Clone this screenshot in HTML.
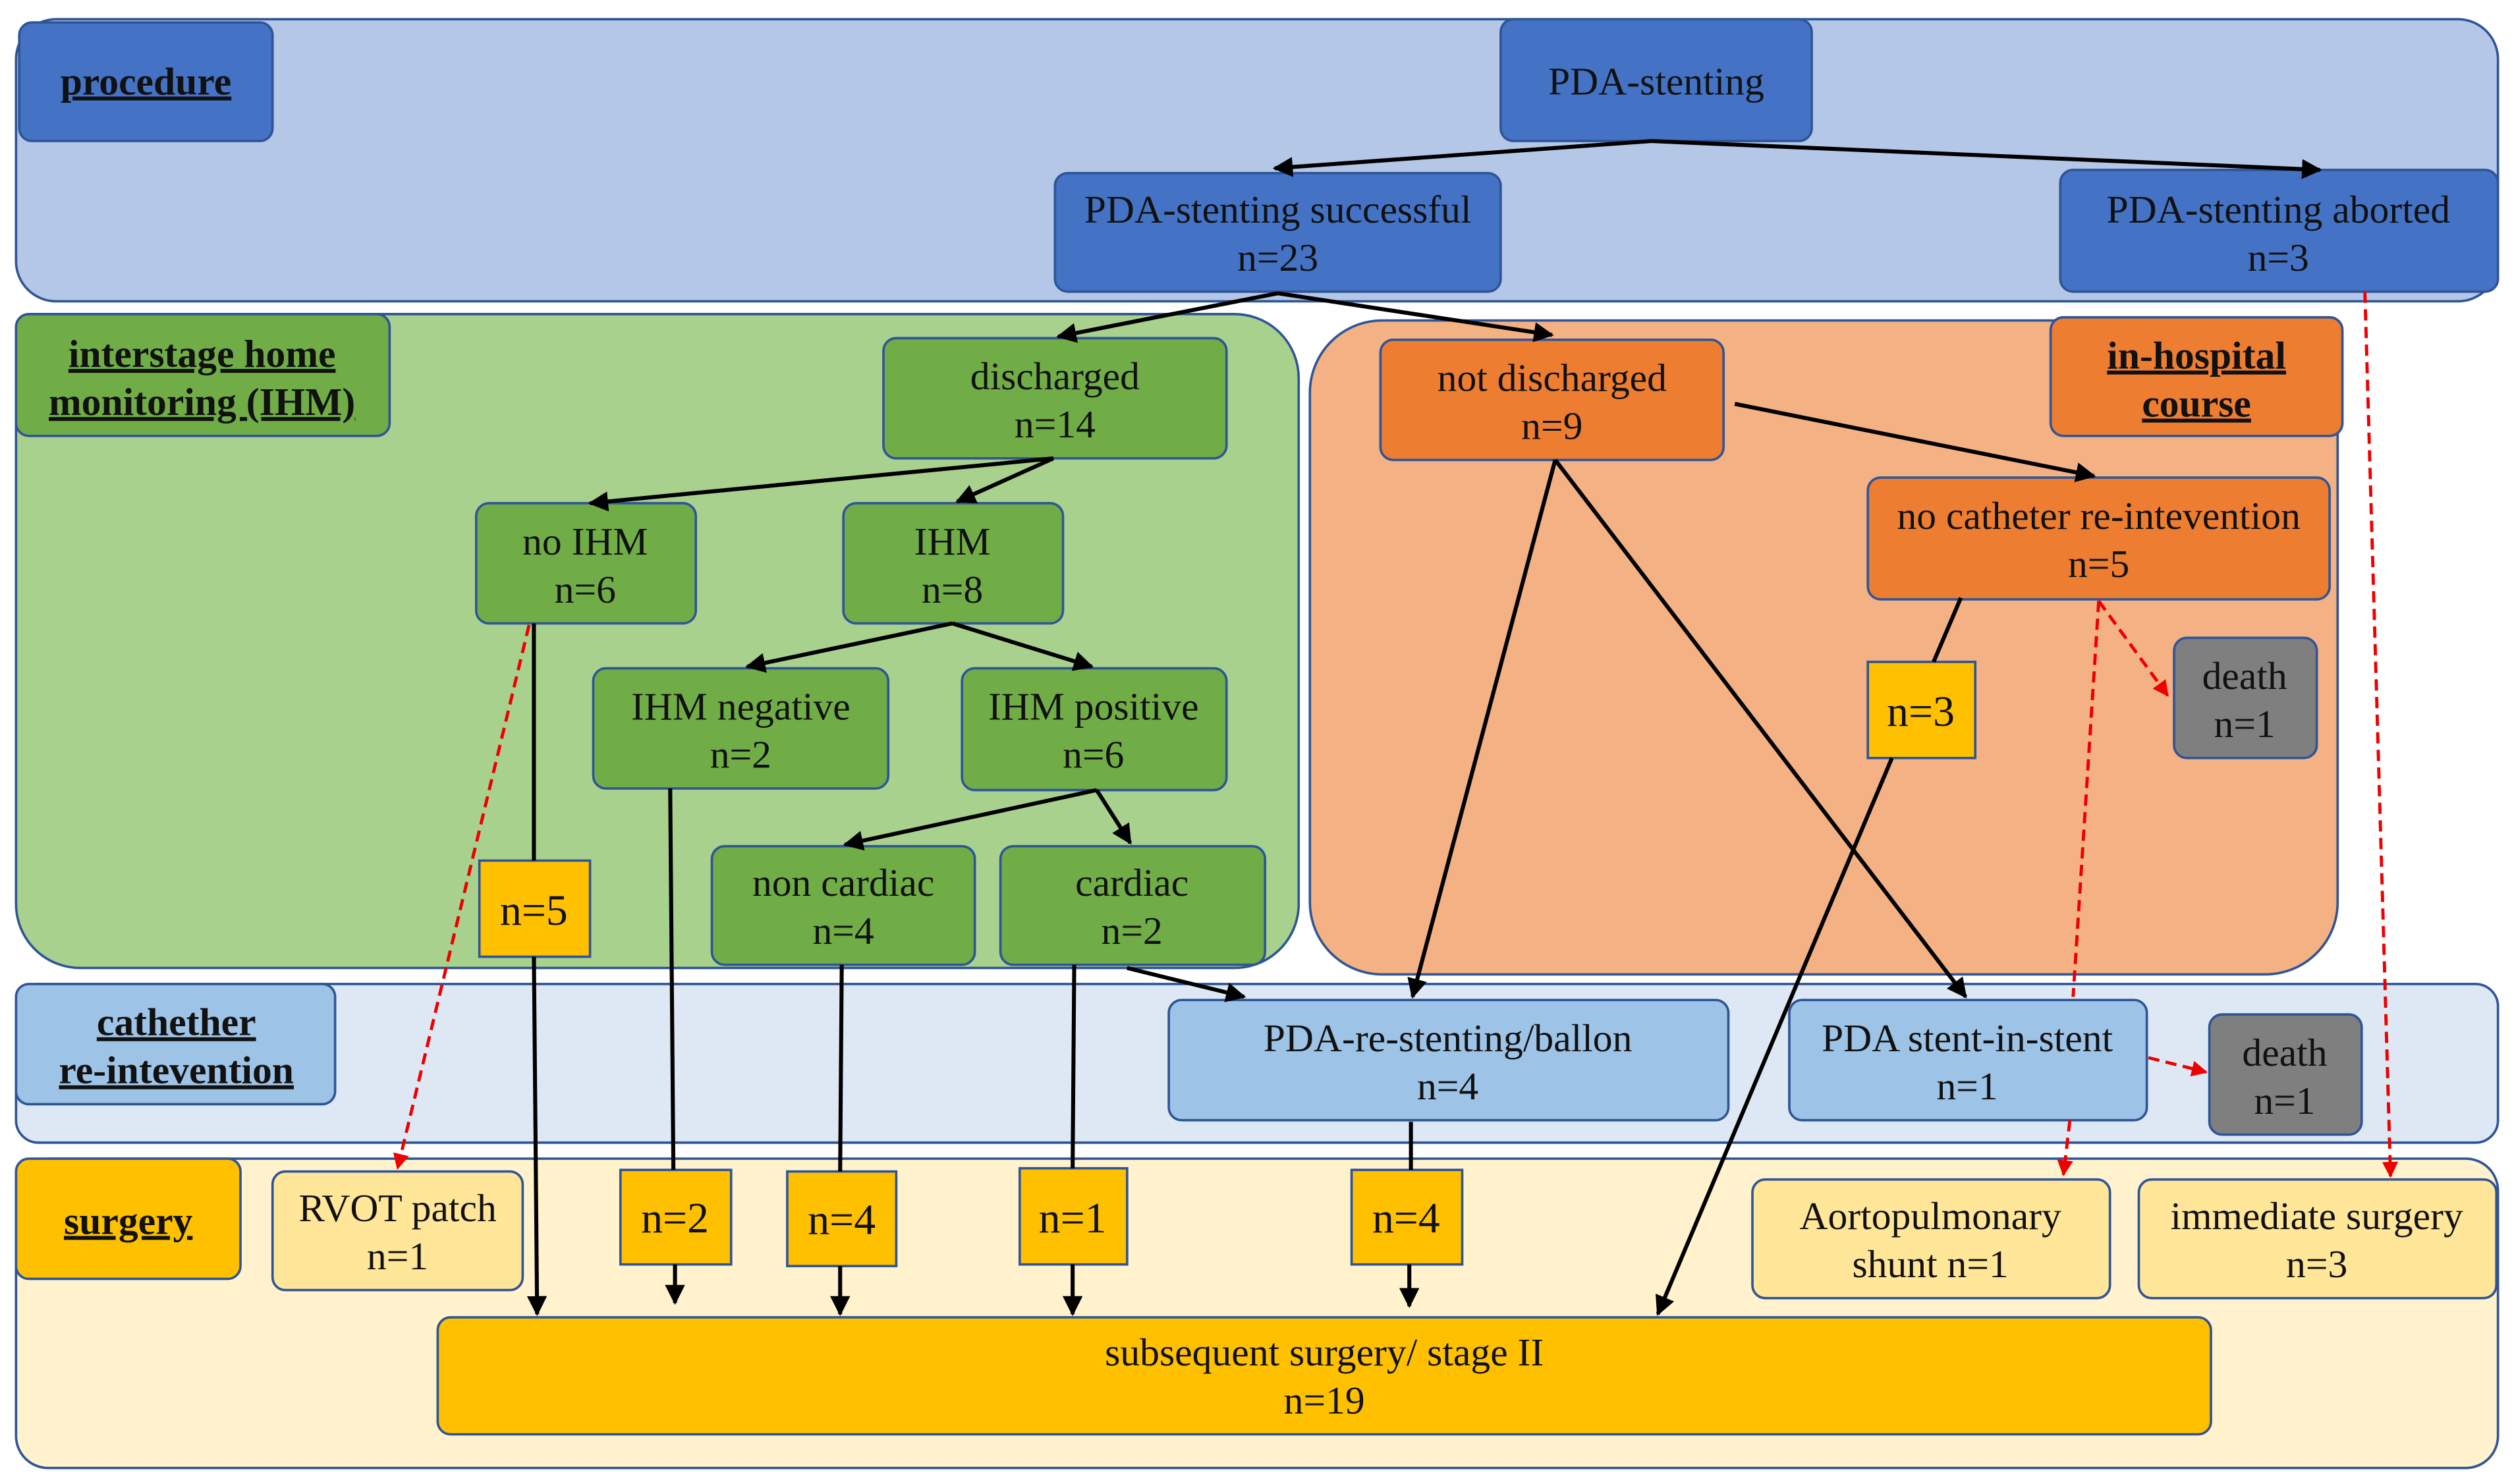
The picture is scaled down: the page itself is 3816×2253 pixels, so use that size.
<!DOCTYPE html>
<html><head><meta charset="utf-8"><style>
html,body{margin:0;padding:0;background:#fff;}
svg{display:block;}
text{font-family:"Liberation Serif",serif;font-size:24.5px;fill:#111;text-anchor:middle;}
.b{font-weight:bold;text-decoration:underline;}
.n{font-size:27px;}
</style></head><body>
<svg width="3816" height="2253" viewBox="0 0 1568 926" preserveAspectRatio="none" xmlns="http://www.w3.org/2000/svg">
<defs>
<marker id="a" viewBox="0 0 10 10" refX="9" refY="5" markerWidth="5" markerHeight="5" orient="auto"><path d="M0,0 L10,5 L0,10 z" fill="#000"/></marker>
<marker id="r" viewBox="0 0 10 10" refX="9" refY="5" markerWidth="5" markerHeight="5" orient="auto"><path d="M0,0 L10,5 L0,10 z" fill="#e00"/></marker>
</defs>
<g stroke="#2f5597" stroke-width="1.5">
<rect x="10" y="12" width="1548" height="176" rx="25" fill="#b4c7e7"/>
<rect x="10" y="196" width="800" height="408" rx="40" fill="#a9d18e"/>
<rect x="817" y="200" width="641" height="408" rx="45" fill="#f4b183"/>
<rect x="10" y="614" width="1548" height="99" rx="14" fill="#dee8f5"/>
<rect x="10" y="723" width="1548" height="193" rx="20" fill="#fff2cc"/>
<rect x="12" y="14" width="158" height="74" rx="8" fill="#4472c4"/>
<rect x="936" y="12" width="194" height="76" rx="8" fill="#4472c4"/>
<rect x="658" y="108" width="278" height="74" rx="8" fill="#4472c4"/>
<rect x="1285" y="106" width="273" height="76" rx="8" fill="#4472c4"/>
<rect x="10" y="196" width="233" height="76" rx="8" fill="#70ad47"/>
<rect x="551" y="211" width="214" height="75" rx="8" fill="#70ad47"/>
<rect x="297" y="314" width="137" height="75" rx="8" fill="#70ad47"/>
<rect x="526" y="314" width="137" height="75" rx="8" fill="#70ad47"/>
<rect x="370" y="417" width="184" height="75" rx="8" fill="#70ad47"/>
<rect x="600" y="417" width="165" height="76" rx="8" fill="#70ad47"/>
<rect x="444" y="528" width="164" height="74" rx="8" fill="#70ad47"/>
<rect x="624" y="528" width="165" height="74" rx="8" fill="#70ad47"/>
<rect x="1279" y="198" width="182" height="74" rx="8" fill="#ed7d31"/>
<rect x="861" y="212" width="214" height="75" rx="8" fill="#ed7d31"/>
<rect x="1165" y="298" width="288" height="76" rx="8" fill="#ed7d31"/>
<rect x="1356" y="398" width="89" height="75" rx="8" fill="#7f7f7f"/>
<rect x="1165" y="413" width="67" height="60" fill="#ffc000"/>
<rect x="10" y="614" width="199" height="75" rx="8" fill="#9dc3e6"/>
<rect x="729" y="624" width="349" height="75" rx="8" fill="#9dc3e6"/>
<rect x="1116" y="624" width="223" height="75" rx="8" fill="#9dc3e6"/>
<rect x="1378" y="633" width="95" height="75" rx="8" fill="#7f7f7f"/>
<rect x="299" y="537" width="69" height="60" fill="#ffc000"/>
<rect x="10" y="723" width="140" height="75" rx="8" fill="#ffc000"/>
<rect x="170" y="731" width="156" height="74" rx="8" fill="#ffe699"/>
<rect x="387" y="730" width="69" height="59" fill="#ffc000"/>
<rect x="491" y="731" width="68" height="59" fill="#ffc000"/>
<rect x="636" y="729" width="67" height="60" fill="#ffc000"/>
<rect x="843" y="730" width="69" height="59" fill="#ffc000"/>
<rect x="1093" y="736" width="223" height="74" rx="8" fill="#ffe699"/>
<rect x="1334" y="736" width="223" height="74" rx="8" fill="#ffe699"/>
<rect x="273" y="822" width="1106" height="73" rx="8" fill="#ffc000"/>
</g>
<g stroke="#000" stroke-width="2.5" fill="none">
<line x1="1030" y1="88" x2="795" y2="105" marker-end="url(#a)"/>
<line x1="1030" y1="88" x2="1447" y2="106" marker-end="url(#a)"/>
<line x1="797" y1="183" x2="660" y2="210" marker-end="url(#a)"/>
<line x1="797" y1="183" x2="968" y2="209" marker-end="url(#a)"/>
<line x1="657" y1="286" x2="368" y2="314" marker-end="url(#a)"/>
<line x1="657" y1="286" x2="597" y2="313" marker-end="url(#a)"/>
<line x1="594" y1="389" x2="466" y2="416" marker-end="url(#a)"/>
<line x1="594" y1="389" x2="681" y2="416" marker-end="url(#a)"/>
<line x1="684" y1="493" x2="527" y2="527" marker-end="url(#a)"/>
<line x1="684" y1="493" x2="705" y2="526" marker-end="url(#a)"/>
<line x1="1082" y1="252" x2="1306" y2="297" marker-end="url(#a)"/>
<line x1="970" y1="287" x2="881" y2="622" marker-end="url(#a)"/>
<line x1="970" y1="287" x2="1226" y2="622" marker-end="url(#a)"/>
<line x1="703" y1="604" x2="776" y2="622" marker-end="url(#a)"/>
<line x1="333" y1="389" x2="333" y2="537"/>
<line x1="333" y1="597" x2="335" y2="820" marker-end="url(#a)"/>
<line x1="418" y1="492" x2="420" y2="730"/>
<line x1="421" y1="789" x2="421" y2="813" marker-end="url(#a)"/>
<line x1="525" y1="602" x2="524" y2="731"/>
<line x1="524" y1="790" x2="524" y2="820" marker-end="url(#a)"/>
<line x1="670" y1="602" x2="669" y2="729"/>
<line x1="669" y1="789" x2="669" y2="820" marker-end="url(#a)"/>
<line x1="880" y1="700" x2="880" y2="730"/>
<line x1="879" y1="789" x2="879" y2="815" marker-end="url(#a)"/>
<line x1="1223" y1="373" x2="1206" y2="413"/>
<line x1="1180" y1="473" x2="1034" y2="820" marker-end="url(#a)"/>
</g>
<g stroke="#e00" stroke-width="2" fill="none" stroke-dasharray="7,4">
<line x1="330" y1="390" x2="248" y2="729" marker-end="url(#r)"/>
<line x1="1309" y1="375" x2="1352" y2="434" marker-end="url(#r)"/>
<line x1="1309" y1="375" x2="1293" y2="622"/>
<line x1="1291" y1="699" x2="1287" y2="733" marker-end="url(#r)"/>
<line x1="1340" y1="660" x2="1376" y2="669" marker-end="url(#r)"/>
<line x1="1475" y1="182" x2="1491" y2="734" marker-end="url(#r)"/>
</g>
<text class="b" x="91" y="59">procedure</text>
<text x="1033" y="59">PDA-stenting</text>
<text x="797" y="139">PDA-stenting successful</text><text x="797" y="169">n=23</text>
<text x="1421" y="139">PDA-stenting aborted</text><text x="1421" y="169">n=3</text>
<text class="b" x="126" y="229">interstage home</text><text class="b" x="126" y="259">monitoring (IHM)</text>
<text x="658" y="243">discharged</text><text x="658" y="273">n=14</text>
<text x="365" y="346">no IHM</text><text x="365" y="376">n=6</text>
<text x="594" y="346">IHM</text><text x="594" y="376">n=8</text>
<text x="462" y="449">IHM negative</text><text x="462" y="479">n=2</text>
<text x="682" y="449">IHM positive</text><text x="682" y="479">n=6</text>
<text x="526" y="559">non cardiac</text><text x="526" y="589">n=4</text>
<text x="706" y="559">cardiac</text><text x="706" y="589">n=2</text>
<text class="b" x="1370" y="230">in-hospital</text><text class="b" x="1370" y="260">course</text>
<text x="968" y="244">not discharged</text><text x="968" y="274">n=9</text>
<text x="1309" y="330">no catheter re-intevention</text><text x="1309" y="360">n=5</text>
<text x="1400" y="430">death</text><text x="1400" y="460">n=1</text>
<text class="n" x="1198" y="453">n=3</text>
<text class="n" x="333" y="577">n=5</text>
<text class="b" x="110" y="646">cathether</text><text class="b" x="110" y="676">re-intevention</text>
<text x="903" y="656">PDA-re-stenting/ballon</text><text x="903" y="686">n=4</text>
<text x="1227" y="656">PDA stent-in-stent</text><text x="1227" y="686">n=1</text>
<text x="1425" y="665">death</text><text x="1425" y="695">n=1</text>
<text class="b" x="80" y="770">surgery</text>
<text x="248" y="762">RVOT patch</text><text x="248" y="792">n=1</text>
<text class="n" x="421" y="769">n=2</text>
<text class="n" x="525" y="770">n=4</text>
<text class="n" x="669" y="769">n=1</text>
<text class="n" x="877" y="769">n=4</text>
<text x="1204" y="767">Aortopulmonary</text><text x="1204" y="797">shunt n=1</text>
<text x="1445" y="767">immediate surgery</text><text x="1445" y="797">n=3</text>
<text x="826" y="852">subsequent surgery/ stage II</text><text x="826" y="882">n=19</text>
</svg>
</body></html>
